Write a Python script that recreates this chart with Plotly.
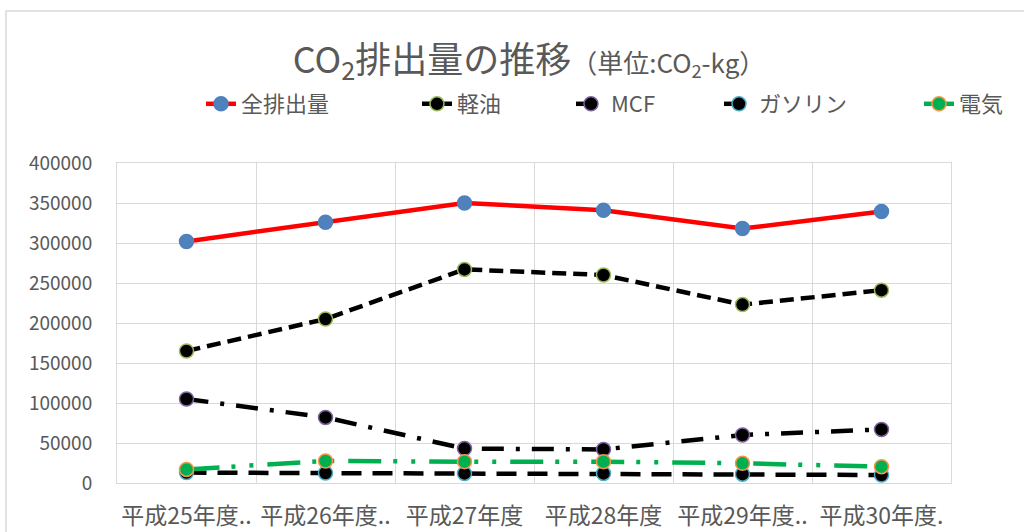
import plotly.graph_objects as go

categories = ["平成25年度..", "平成26年度..", "平成27年度", "平成28年度", "平成29年度..", "平成30年度."]
total = [302000, 326000, 350000, 341000, 318000, 339500]
keiyu = [165000, 205000, 267000, 260000, 223000, 241000]
mcf = [105000, 82000, 43000, 42000, 60000, 67000]
gasoline = [13000, 12500, 12000, 12000, 11000, 10000]
denki = [17000, 27500, 26700, 26700, 24600, 20400]
y_ticks = [0, 50000, 100000, 150000, 200000, 250000, 300000, 350000, 400000]

FONT = "Noto Sans CJK JP"
GRAY = "#595959"
L, R, T, B = 117, 73, 163, 49
PW, PH = 1024 - L - R, 532 - T - B

series = [
    ("全排出量", total, "#FF0000", "solid", "#4F81BD", "#4F81BD"),
    ("軽油", keiyu, "#000000", "14px,7px", "#000000", "#9BBB59"),
    ("MCF", mcf, "#000000", "22px,12px,4px,12px", "#000000", "#8064A2"),
    ("ガソリン", gasoline, "#000000", "20px,11px", "#000000", "#4BACC6"),
    ("電気", denki, "#00B050", "33px,12px,4px,14px,4px,14px", "#00B050", "#F79646"),
]
# text start x (px) of each legend entry
legend_text_x = [242, 458, 612, 760, 960]
TEXT_OFF = 41

fig = go.Figure()
layout_legends = {}
for i, (name, vals, lc, dash, mfill, mline) in enumerate(series):
    lname = "legend" if i == 0 else f"legend{i + 1}"
    fig.add_trace(go.Scatter(
        x=categories, y=vals, name=name, mode="lines+markers",
        line=dict(color=lc, width=4.5, dash=dash),
        marker=dict(size=14, color=mfill, line=dict(color=mline, width=1.5)),
        legend=lname,
    ))
    layout_legends[lname] = dict(
        orientation="h", x=(legend_text_x[i] - TEXT_OFF - L) / PW, xanchor="left",
        y=(532 - B - 104) / PH, yanchor="middle",
        font=dict(size=22, color=GRAY, family=FONT),
        bgcolor="rgba(0,0,0,0)",
    )

fig.update_layout(
    width=1024, height=532,
    margin=dict(l=L, r=R, t=T, b=B, autoexpand=False),
    paper_bgcolor="white", plot_bgcolor="white",
    font=dict(family=FONT, color=GRAY, size=19),
    title=dict(
        text="CO<sub>2</sub>排出量の推移<span style='font-size:26px'>（単位:CO<sub>2</sub>-kg）</span>",
        x=529 / 1024, xanchor="center", y=1 - 60 / 532, yanchor="middle",
        font=dict(size=36, color=GRAY, family=FONT),
    ),
    showlegend=True,
    **layout_legends,
)
fig.update_xaxes(
    type="category", tickson="boundaries", showgrid=True, gridcolor="#D9D9D9",
    showline=True, linecolor="#D9D9D9", mirror=True, ticks="", automargin=False,
    range=[-0.5, 5.5], ticklabelstandoff=12, tickfont=dict(size=23, color=GRAY),
)
fig.update_yaxes(
    range=[0, 400000], tickvals=y_ticks, tickformat="d", automargin=False,
    showgrid=True, gridcolor="#D9D9D9", zeroline=False,
    showline=True, linecolor="#D9D9D9", mirror=True, ticks="",
    ticklabelstandoff=20, tickfont=dict(size=19, color=GRAY),
)
fig.add_shape(type="rect", xref="paper", yref="paper",
              x0=(6 - L) / PW, x1=(1040 - L) / PW,
              y0=(483 - 545) / PH, y1=(483 - 11) / PH,
              line=dict(color="#D9D9D9", width=1.5), layer="below")

fig.write_html("out.html", config={"displayModeBar": False},
               post_script="document.body.style.margin='0';")
